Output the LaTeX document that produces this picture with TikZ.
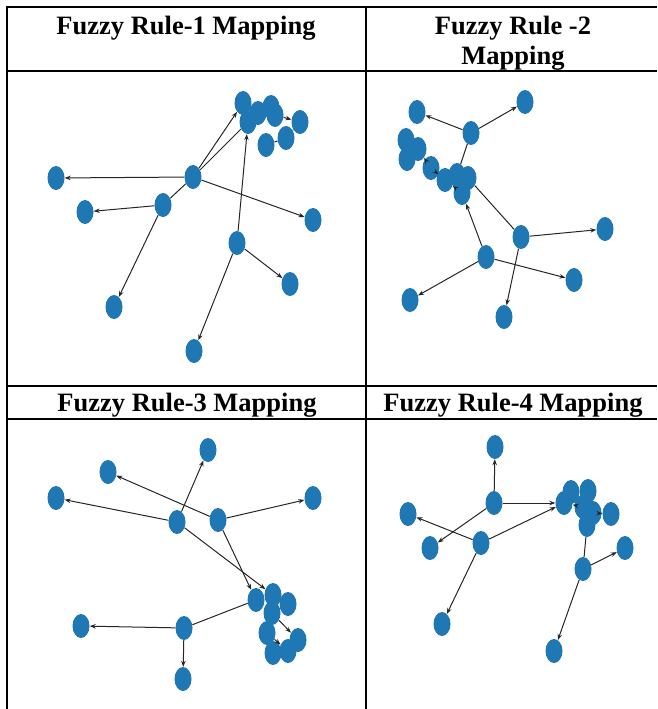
\documentclass[tikz,border=0pt]{standalone}
\usepackage{fontspec}
\setmainfont{Liberation Serif}
\usepackage{tikz}
\usetikzlibrary{shapes.geometric, arrows.meta, positioning}
\definecolor{mplblue}{HTML}{1F77B4}

\begin{document}
\begin{tikzpicture}[
        x=1pt, y=-1pt,
        >={Stealth[length=6pt, width=4.5pt]},
        vtx/.style={ellipse, fill=mplblue, minimum width=17pt, minimum height=24pt, inner sep=0pt},
        arrowline/.style={->, line width=1pt, black!85},
        plainline/.style={line width=1pt, black!85},
        tableline/.style={line width=2pt, black},
        head/.style={font=\fontsize{26.5}{30}\selectfont\bfseries, align=center, inner sep=0pt}
    ]
        \useasboundingbox (0,0) rectangle (657,709);

        \draw[tableline] (7,7) -- (657,7);
        \draw[tableline] (7,71) -- (657,71);
        \draw[tableline] (7,386) -- (657,386);
        \draw[tableline] (7,419) -- (657,419);
        \draw[tableline] (7,6) -- (7,709);
        \draw[tableline] (366,6) -- (366,709);

        \node[head] (h1) at (186,28) {Fuzzy Rule-1 Mapping};
        \node[head] (h2) at (513,43) {Fuzzy Rule -2\\Mapping};
        \node[head] (h3) at (187,405) {Fuzzy Rule-3 Mapping};
        \node[head] (h4) at (513,405) {Fuzzy Rule-4 Mapping};

        % rule 1
        \node[vtx] (r1a) at (193,177) {};
        \node[vtx] (r1b) at (56,178) {};
        \node[vtx] (r1c) at (163,205) {};
        \node[vtx] (r1d) at (85,212) {};
        \node[vtx] (r1e) at (313,220) {};
        \node[vtx] (r1f) at (237,243) {};
        \node[vtx] (r1g) at (290,284) {};
        \node[vtx] (r1h) at (114,307) {};
        \node[vtx] (r1i) at (194,351) {};
        \node[vtx] (r1q) at (266,145) {};
        \node[vtx] (r1p) at (286,138) {};
        \node[vtx] (r1o) at (300,122) {};
        \node[vtx] (r1j) at (243,103) {};
        \node[vtx] (r1k) at (248,122) {};
        \node[vtx] (r1l) at (258,113) {};
        \node[vtx] (r1m) at (271,107) {};
        \node[vtx] (r1n) at (275,115) {};

        \draw[arrowline] (r1a) -- (r1b);
        \draw[arrowline] (r1a) -- (r1e);
        \draw[arrowline] (r1a) -- (r1j);
        \draw[plainline] (r1a) -- (r1k);
        \draw[plainline] (r1c) -- (r1a);
        \draw[arrowline] (r1c) -- (r1d);
        \draw[arrowline] (r1c) -- (r1h);
        \draw[arrowline] (r1f) -- (r1k);
        \draw[arrowline] (r1f) -- (r1g);
        \draw[arrowline] (r1f) -- (r1i);
        \draw[arrowline] (r1n) -- (r1o);
        \draw[plainline] (r1q) -- (r1p);
        \draw[plainline] (r1p) -- (r1o);

        % rule 2
        \node[vtx] (r2a) at (471,133) {};
        \node[vtx] (r2b) at (417,112) {};
        \node[vtx] (r2c) at (525,102) {};
        \node[vtx] (r2d) at (406,140) {};
        \node[vtx] (r2e) at (407,159) {};
        \node[vtx] (r2f) at (418,149) {};
        \node[vtx] (r2g) at (431,168) {};
        \node[vtx] (r2h) at (445,180) {};
        \node[vtx] (r2i) at (457,175) {};
        \node[vtx] (r2k) at (462,193) {};
        \node[vtx] (r2j) at (468,178) {};
        \node[vtx] (r2l) at (521,237) {};
        \node[vtx] (r2m) at (605,229) {};
        \node[vtx] (r2n) at (486,257) {};
        \node[vtx] (r2o) at (574,280) {};
        \node[vtx] (r2p) at (410,300) {};
        \node[vtx] (r2q) at (504,317) {};

        \draw[arrowline] (r2a) -- (r2b);
        \draw[arrowline] (r2a) -- (r2c);
        \draw[plainline] (r2a) -- (r2i);
        \draw[arrowline] (r2h) -- (r2g);
        \draw[arrowline] (r2g) -- (r2f);
        \draw[arrowline] (r2k) -- (r2h);
        \draw[plainline] (r2l) -- (r2j);
        \draw[arrowline] (r2l) -- (r2m);
        \draw[arrowline] (r2l) -- (r2q);
        \draw[arrowline] (r2n) -- (r2p);
        \draw[arrowline] (r2n) -- (r2o);
        \draw[arrowline] (r2n) -- (r2k);

        % rule 3
        \node[vtx] (r3a) at (177,522) {};
        \node[vtx] (r3b) at (218,520) {};
        \node[vtx] (r3c) at (208,450) {};
        \node[vtx] (r3d) at (108,472) {};
        \node[vtx] (r3e) at (56,498) {};
        \node[vtx] (r3f) at (313,498) {};
        \node[vtx] (r3g) at (256,600) {};
        \node[vtx] (r3h) at (273,595) {};
        \node[vtx] (r3i) at (288,604) {};
        \node[vtx] (r3j) at (272,613) {};
        \node[vtx] (r3k) at (267,633) {};
        \node[vtx] (r3l) at (298,640) {};
        \node[vtx] (r3m) at (288,651) {};
        \node[vtx] (r3n) at (273,653) {};
        \node[vtx] (r3o) at (184,628) {};
        \node[vtx] (r3p) at (81,626) {};
        \node[vtx] (r3q) at (183,679) {};

        \draw[arrowline] (r3a) -- (r3e);
        \draw[arrowline] (r3a) -- (r3c);
        \draw[arrowline] (r3a) -- (r3h);
        \draw[arrowline] (r3b) -- (r3d);
        \draw[arrowline] (r3b) -- (r3f);
        \draw[arrowline] (r3b) -- (r3g);
        \draw[plainline] (r3o) -- (r3g);
        \draw[arrowline] (r3o) -- (r3p);
        \draw[arrowline] (r3o) -- (r3q);
        \draw[arrowline] (r3j) -- (r3l);
        \draw[arrowline] (r3k) -- (r3m);

        % rule 4
        \node[vtx] (r4a) at (494,503) {};
        \node[vtx] (r4b) at (495,447) {};
        \node[vtx] (r4c) at (481,543) {};
        \node[vtx] (r4d) at (408,514) {};
        \node[vtx] (r4e) at (430,548) {};
        \node[vtx] (r4f) at (442,624) {};
        \node[vtx] (r4g) at (564,503) {};
        \node[vtx] (r4h) at (571,492) {};
        \node[vtx] (r4i) at (588,491) {};
        \node[vtx] (r4j) at (583,507) {};
        \node[vtx] (r4k) at (593,513) {};
        \node[vtx] (r4l) at (587,525) {};
        \node[vtx] (r4m) at (611,514) {};
        \node[vtx] (r4n) at (583,569) {};
        \node[vtx] (r4o) at (625,548) {};
        \node[vtx] (r4p) at (554,651) {};

        \draw[arrowline] (r4a) -- (r4b);
        \draw[arrowline] (r4a) -- (r4g);
        \draw[arrowline] (r4a) -- (r4e);
        \draw[arrowline] (r4c) -- (r4d);
        \draw[arrowline] (r4c) -- (r4g);
        \draw[arrowline] (r4c) -- (r4f);
        \draw[arrowline] (r4n) -- (r4o);
        \draw[arrowline] (r4n) -- (r4p);
        \draw[plainline] (r4n) -- (r4l);
        \draw[arrowline] (r4k) -- (r4m);
        \draw[arrowline] (r4j) -- (r4g);
    \end{tikzpicture}
\end{document}
